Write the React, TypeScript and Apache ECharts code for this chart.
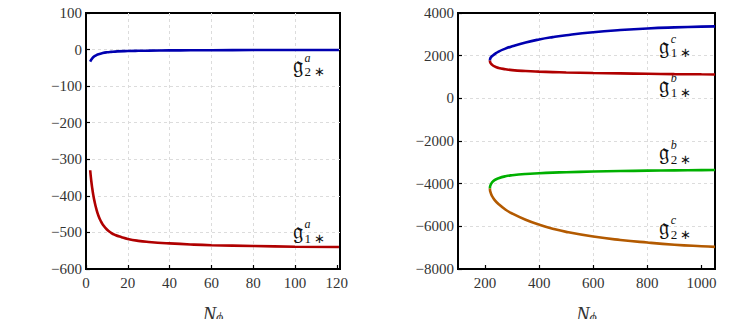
import React, { useEffect, useRef } from "react";
import * as echarts from "echarts";

// Left panel data
const g2aX = [2, 2.5, 3, 4, 5, 6, 8, 10, 12, 15, 20, 25, 30, 40, 50, 60, 80, 100, 121];
const g2aY = [-33, -28, -24, -18.5, -15, -12.5, -9.5, -7.5, -6.3, -5, -4, -3.4, -3, -2.3, -2, -1.7, -1.3, -1.1, -1];
const g1aX = [2, 2.5, 3, 3.5, 4, 5, 6, 7, 8, 10, 12, 14, 17, 20, 25, 30, 40, 50, 60, 80, 100, 121];
const g1aY = [-330, -358, -380, -398, -413, -437, -455, -468, -478, -492, -501, -507, -513, -518, -523, -526, -530, -533, -535, -537, -539, -540];

// Right panel data
const g1cX = [218, 218.5, 220, 225, 235, 250, 275, 300, 350, 400, 450, 500, 600, 700, 800, 900, 1000, 1050];
const g1cY = [1773, 1830, 1890, 1970, 2070, 2190, 2330, 2440, 2620, 2760, 2870, 2960, 3100, 3200, 3275, 3325, 3360, 3375];
const g1bX = [218, 218.5, 220, 225, 235, 250, 275, 300, 350, 400, 450, 500, 600, 700, 800, 900, 1000, 1050];
const g1bY = [1773, 1720, 1665, 1585, 1495, 1425, 1365, 1322, 1278, 1250, 1230, 1213, 1188, 1168, 1150, 1136, 1126, 1120];
const g2bX = [218, 218.5, 220, 225, 235, 250, 275, 300, 350, 400, 450, 500, 600, 700, 800, 900, 1000, 1050];
const g2bY = [-4224, -4140, -4080, -3955, -3835, -3745, -3655, -3605, -3545, -3510, -3482, -3462, -3432, -3408, -3390, -3376, -3366, -3360];
const g2cX = [218, 218.5, 220, 225, 235, 250, 275, 300, 350, 400, 450, 500, 600, 700, 800, 900, 1000, 1050];
const g2cY = [-4224, -4320, -4390, -4560, -4760, -4960, -5210, -5400, -5690, -5920, -6110, -6260, -6480, -6640, -6760, -6860, -6935, -6965];

const leftXTicks = [0, 20, 40, 60, 80, 100, 120];
const rightXTicks = [200, 400, 600, 800, 1000];

// Curve labels
const labelGrid = [0, 0, 1, 1, 1, 1];
const labelX = [98.8, 98.8, 842, 842, 842, 842];
const labelY = [-47, -502, 2369, 513, -2612, -6136];
const labelSup = ["a", "a", "c", "b", "b", "c"];
const labelSub = ["2", "1", "1", "1", "2", "2"];

const zip = (xs: number[], ys: number[]) => xs.map((x, i) => [x, ys[i]]);

const FONT = "Liberation Serif";
const minus = (v: number) => String(v).replace("-", "\u2212");

export default function App() {
  const ref = useRef<HTMLDivElement>(null);
  useEffect(() => {
    if (!ref.current) return;
    const chart = echarts.init(ref.current, null, { renderer: "svg" });
    const tickLabel = { color: "#333", fontFamily: FONT, fontSize: 15, formatter: minus };
    const axisCommon = {
      axisLine: { show: false, onZero: false },
      axisTick: { show: true, inside: true, length: 4, lineStyle: { color: "#000", width: 1.2 } },
      splitLine: { show: true, showMinLine: false, showMaxLine: false, lineStyle: { color: "#dcdcdc", type: [3, 3], width: 1 } },
    };
    const nameCfg = {
      name: "{n|N}{s|\u03d5}",
      nameLocation: "middle" as const,
      nameGap: 35,
      nameTextStyle: {
        rich: {
          n: { fontFamily: FONT, fontStyle: "italic", fontSize: 20, color: "#333" },
          s: { fontFamily: FONT, fontStyle: "italic", fontSize: 14, color: "#333", verticalAlign: "bottom", padding: [6, 0, 0, 0] },
        },
      },
    };
    const lineS = (xi: number, data: number[][], color: string) => ({
      type: "line",
      xAxisIndex: xi,
      yAxisIndex: xi,
      data,
      showSymbol: false,
      smooth: 0.5,
      lineStyle: { color, width: 2.6 },
      clip: true,
    });
    const gridCommon = {
      top: 13, height: 256, show: true, borderColor: "#000", borderWidth: 2,
      backgroundColor: "transparent", outerBoundsMode: "none", containLabel: false,
    };
    chart.setOption({
      animation: false,
      textStyle: { fontFamily: FONT },
      grid: [
        { ...gridCommon, left: 86, width: 254 },
        { ...gridCommon, left: 458, width: 257 },
      ],
      xAxis: [
        {
          ...axisCommon, ...nameCfg, gridIndex: 0, type: "value", min: 0, max: 121.5,
          axisLabel: { ...tickLabel, margin: 6, customValues: leftXTicks },
          axisTick: { ...axisCommon.axisTick, customValues: leftXTicks },
        },
        {
          ...axisCommon, ...nameCfg, gridIndex: 1, type: "value", min: 100, max: 1050,
          axisLabel: { ...tickLabel, margin: 6, customValues: rightXTicks },
          axisTick: { ...axisCommon.axisTick, customValues: rightXTicks },
        },
      ],
      yAxis: [
        { ...axisCommon, gridIndex: 0, type: "value", min: -600, max: 100, interval: 100, axisLabel: { ...tickLabel, margin: 4 } },
        { ...axisCommon, gridIndex: 1, type: "value", min: -8000, max: 4000, interval: 2000, axisLabel: { ...tickLabel, margin: 4 } },
      ],
      series: [
        lineS(0, zip(g2aX, g2aY), "#0000b0"),
        lineS(0, zip(g1aX, g1aY), "#b00000"),
        lineS(1, zip(g1cX, g1cY), "#0000b0"),
        lineS(1, zip(g1bX, g1bY), "#b00000"),
        lineS(1, zip(g2bX, g2bY), "#00b000"),
        lineS(1, zip(g2cX, g2cY), "#b35a00"),
      ],
    });
    const graphics = labelX.map((x, i) => {
      const p = chart.convertToPixel({ gridIndex: labelGrid[i] }, [x, labelY[i]]) as number[];
      return {
        type: "group",
        x: p[0],
        y: p[1],
        children: [
          { type: "text", x: 0, y: -2, style: { text: "\u{1D524}", fontFamily: "DejaVu Serif, DejaVu Sans, serif", fontSize: 23, fill: "#111", verticalAlign: "middle", align: "left" } },
          { type: "text", x: 12, y: -9, style: { text: labelSup[i], fontFamily: FONT, fontStyle: "italic", fontSize: 12, fill: "#111", verticalAlign: "middle", align: "left" } },
          { type: "text", x: 12, y: 5, style: { text: labelSub[i] + "\u2009\u2217", fontFamily: FONT, fontSize: 13, fill: "#111", verticalAlign: "middle", align: "left" } },
        ],
      };
    });
    chart.setOption({ graphic: graphics });
    return () => chart.dispose();
  }, []);
  return <div ref={ref} style={{ width: 740, height: 327, margin: -8 }} />;
}
